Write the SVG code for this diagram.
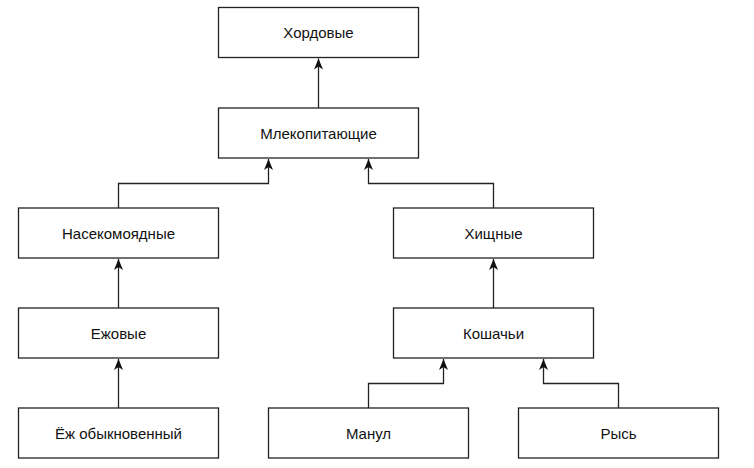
<svg xmlns="http://www.w3.org/2000/svg" width="754" height="468" viewBox="0 0 754 468">
<style>
.box{fill:#fff;stroke:#222;stroke-width:1.3}
.lbl{font-family:"Liberation Sans",Arial,sans-serif;font-size:15px;fill:#111;text-anchor:middle;dominant-baseline:central}
.edge{fill:none;stroke:#222;stroke-width:1.3;marker-end:url(#arr)}
</style>
<defs>
<marker id="arr" markerUnits="userSpaceOnUse" markerWidth="12" markerHeight="10" viewBox="0 0 12 10" refX="11" refY="5" orient="auto">
<path d="M0,0.5 L11,5 L0,9.5 L3,5 z" fill="#111"/>
</marker>
</defs>
<rect width="754" height="468" fill="#fff"/>
<g id="edges">
<path class="edge" d="M318.5,108 V58.5"/>
<path class="edge" d="M118.5,208 V183.5 H268.5 V159"/>
<path class="edge" d="M493.5,208 V183.5 H368.5 V159"/>
<path class="edge" d="M118.5,308 V259"/>
<path class="edge" d="M118.5,408 V359"/>
<path class="edge" d="M493.5,308 V259"/>
<path class="edge" d="M368.5,408 V383.5 H443.5 V359"/>
<path class="edge" d="M618.5,408 V383.5 H543.5 V359"/>
</g>
<g id="n_chordata"><rect class="box" x="218.5" y="7.5" width="200" height="50"/><text class="lbl" x="318.5" y="32.5">Хордовые</text></g>
<g id="n_mammalia"><rect class="box" x="218.5" y="108" width="200" height="50"/><text class="lbl" x="318.5" y="133">Млекопитающие</text></g>
<g id="n_insectivora"><rect class="box" x="18.5" y="208" width="200" height="50"/><text class="lbl" x="118.5" y="233">Насекомоядные</text></g>
<g id="n_erinaceidae"><rect class="box" x="18.5" y="308" width="200" height="50"/><text class="lbl" x="118.5" y="333">Ежовые</text></g>
<g id="n_hedgehog"><rect class="box" x="18.5" y="408" width="200" height="50"/><text class="lbl" x="118.5" y="433">Ёж обыкновенный</text></g>
<g id="n_carnivora"><rect class="box" x="393.5" y="208" width="200" height="50"/><text class="lbl" x="493.5" y="233">Хищные</text></g>
<g id="n_felidae"><rect class="box" x="393.5" y="308" width="200" height="50"/><text class="lbl" x="493.5" y="333">Кошачьи</text></g>
<g id="n_manul"><rect class="box" x="268.5" y="408" width="200" height="50"/><text class="lbl" x="368.5" y="433">Манул</text></g>
<g id="n_lynx"><rect class="box" x="518.5" y="408" width="200" height="50"/><text class="lbl" x="618.5" y="433">Рысь</text></g>
</svg>
